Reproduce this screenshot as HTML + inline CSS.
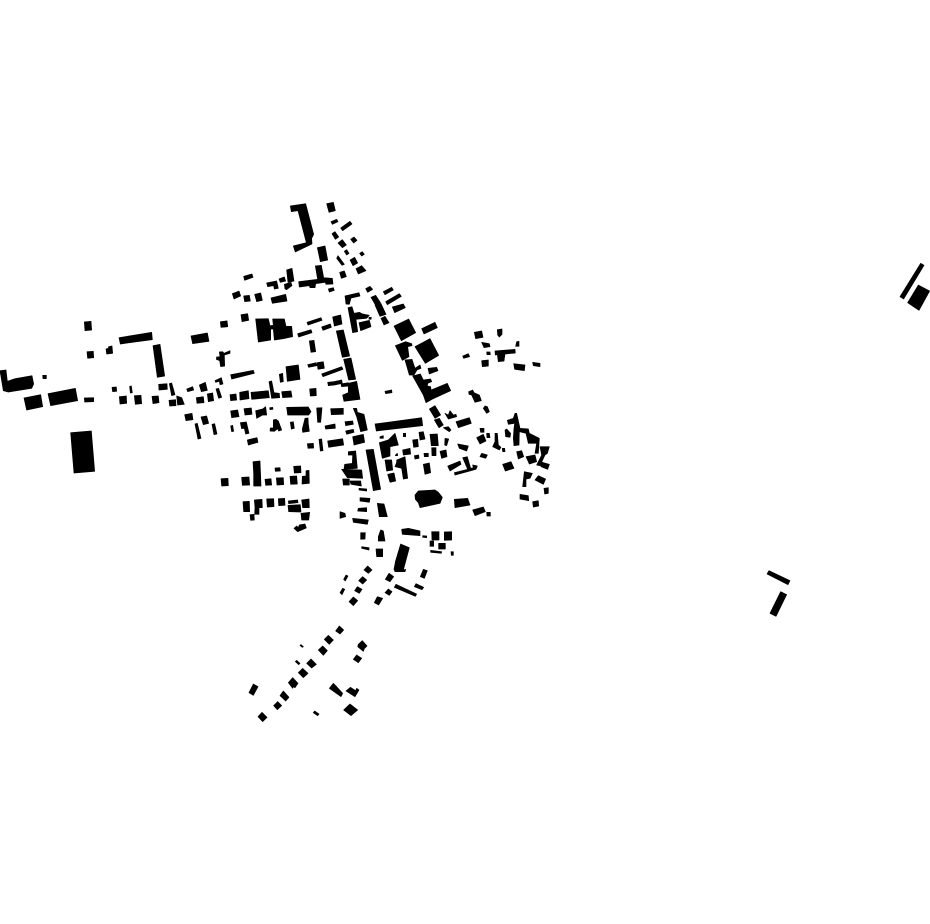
<!DOCTYPE html>
<html><head><meta charset="utf-8"><title>Figure-ground map</title>
<style>html,body{margin:0;padding:0;background:#fff}svg{display:block}polygon{stroke:#000;stroke-width:2;stroke-linejoin:round}</style></head>
<body>
<svg xmlns="http://www.w3.org/2000/svg" width="930" height="924" viewBox="0 0 930 924">
<rect width="930" height="924" fill="#fff"/>
<g fill="#000">
<g transform="translate(0,310) scale(.33333)">
<polygon points="0,182 18,180 22,214 45,206 96,197 101,222 95,235 25,246 10,242"/>
<polygon points="128,196 139,196 139,206 129,206"/>
<polygon points="72,264 122,254 128,290 80,300"/>
<polygon points="144,251 226,235 233,272 152,287"/>
<polygon points="253,264 281,263 281,275 254,276"/>
<polygon points="212,368 274,363 284,484 222,489"/>
<polygon points="253,36 273,34 275,60 255,62"/>
<polygon points="261,125 280,124 281,143 263,145"/>
<polygon points="318,117 325,115 326,110 336,108 338,130 320,132"/>
<polygon points="357,83 455,67 457,89 361,102"/>
<polygon points="459,107 480,103 494,198 472,202"/>
<polygon points="573,78 622,69 627,94 578,101"/>
<polygon points="661,36 681,33 683,50 663,52"/>
<polygon points="336,232 349,231 350,244 338,245"/>
<polygon points="389,229 394,228 397,248 391,249"/>
<polygon points="358,260 379,258 380,280 360,282"/>
<polygon points="403,257 423,256 425,281 406,283"/>
<polygon points="456,259 475,258 477,278 459,281"/>
<polygon points="476,223 501,221 502,238 477,240"/>
<polygon points="508,221 515,219 525,254 515,257"/>
<polygon points="507,271 527,269 528,287 509,288"/>
<polygon points="530,258 545,263 553,283 533,285"/>
<polygon points="560,237 578,230 581,240 563,245"/>
<polygon points="598,225 616,217 622,241 604,245"/>
<polygon points="589,263 610,260 612,278 591,280"/>
<polygon points="622,252 638,249 641,272 625,275"/>
<polygon points="648,237 656,235 665,262 656,265"/>
<polygon points="645,212 660,205 664,203 669,222 660,224 658,214 647,217"/>
<polygon points="554,314 576,310 579,329 558,332"/>
<polygon points="603,321 620,318 626,340 610,344"/>
<polygon points="585,342 592,340 603,385 594,387"/>
<polygon points="636,343 644,341 651,372 642,374"/>
<polygon points="658,126 668,125 672,130 690,122 690,130 673,135 674,168 662,170 659,152 649,148 650,141 660,140"/>
</g>
<g transform="translate(215,195) scale(.33333)">
<polygon points="226,33 272,26 296,118 290,130 291,147 241,171 235,153 274,143 249,47 229,50"/>
<polygon points="335,26 355,22 361,47 342,52"/>
<polygon points="348,80 365,73 369,80 352,88"/>
<polygon points="377,99 405,79 411,87 383,107"/>
<polygon points="351,116 360,110 371,126 361,133"/>
<polygon points="369,144 382,134 394,150 382,158"/>
<polygon points="407,133 417,126 426,136 416,144"/>
<polygon points="388,169 395,164 402,175 395,180"/>
<polygon points="434,175 442,170 448,178 440,183"/>
<polygon points="365,190 369,182 388,208 381,211"/>
<polygon points="405,195 419,187 428,204 414,212"/>
<polygon points="307,158 330,153 338,195 316,200"/>
<polygon points="423,221 440,212 453,227 430,237"/>
<polygon points="374,232 388,228 394,245 379,250"/>
<polygon points="86,244 111,237 114,247 89,256"/>
<polygon points="215,225 231,220 237,258 219,262"/>
<polygon points="155,264 185,258 190,280 178,282 176,272 158,275"/>
<polygon points="192,252 208,246 212,258 196,262"/>
<polygon points="208,268 228,262 231,272 215,284 210,282"/>
<polygon points="251,260 283,256 308,253 301,213 319,211 326,248 352,250 354,267 333,268 331,262 302,266 300,278 285,278 283,272 253,276"/>
<polygon points="340,282 355,278 358,286 343,291"/>
<polygon points="52,296 72,288 77,303 57,312"/>
<polygon points="86,303 103,301 106,318 89,320"/>
<polygon points="119,298 137,294 142,316 125,320"/>
<polygon points="168,309 212,298 216,318 172,325"/>
<polygon points="17,380 36,378 38,395 19,397"/>
<polygon points="78,359 98,356 101,376 81,380"/>
<polygon points="122,372 160,371 165,392 175,391 173,372 208,372 213,394 230,394 233,425 205,431 178,435 175,402 167,402 167,435 130,441"/>
<polygon points="276,382 318,368 321,376 279,390"/>
<polygon points="320,396 346,387 349,397 324,406"/>
<polygon points="353,366 377,360 381,387 358,393"/>
<polygon points="248,416 288,404 291,413 251,426"/>
<polygon points="283,438 297,436 302,470 288,472"/>
</g>
<g transform="translate(215,360) scale(.33333)">
<polygon points="278,14 303,8 306,17 281,22"/>
<polygon points="306,8 325,5 328,25 309,28"/>
<polygon points="320,42 380,20 384,28 324,50"/>
<polygon points="47,44 115,31 118,40 50,57"/>
<polygon points="213,20 250,15 255,58 217,64"/>
<polygon points="193,43 203,40 205,65 196,67"/>
<polygon points="338,67 355,65 357,75 340,77"/>
<polygon points="356,65 380,60 382,70 358,75"/>
<polygon points="378,72 400,68 402,78 380,80"/>
<polygon points="162,65 170,63 177,98 193,100 194,113 170,115"/>
<polygon points="108,97 160,92 163,113 110,118"/>
<polygon points="74,97 100,92 102,116 75,120"/>
<polygon points="45,104 63,102 65,120 47,122"/>
<polygon points="200,95 228,93 231,111 203,113"/>
<polygon points="284,87 303,85 304,107 286,108"/>
<polygon points="47,153 68,150 72,170 50,173"/>
<polygon points="87,146 109,144 111,163 90,165"/>
<polygon points="122,152 143,147 152,140 155,165 143,165 125,175"/>
<polygon points="164,143 173,142 174,148 165,149"/>
<polygon points="215,142 280,141 288,155 281,165 218,165"/>
<polygon points="305,144 321,143 320,155 317,187 308,187"/>
<polygon points="347,146 385,145 385,163 349,164"/>
<polygon points="166,204 175,204 175,180 183,178 190,183 200,210 191,213 188,206 178,214 165,213"/>
<polygon points="226,187 235,185 238,205 229,207"/>
<polygon points="262,207 270,175 279,174 280,192 283,214 263,217"/>
<polygon points="330,198 360,192 361,205 332,207"/>
<polygon points="47,198 53,196 56,214 50,215"/>
<polygon points="76,188 94,186 102,220 92,222 88,205 80,206"/>
<polygon points="97,240 126,233 129,247 100,255"/>
<polygon points="277,251 295,250 296,264 279,265"/>
<polygon points="312,238 320,237 324,272 316,273"/>
<polygon points="338,243 383,236 386,255 341,262"/>
<polygon points="18,356 39,355 40,377 20,378"/>
<polygon points="80,352 102,351 104,375 82,376"/>
<polygon points="114,305 135,303 137,350 138,378 116,378 116,340"/>
<polygon points="150,358 168,356 170,375 152,376"/>
<polygon points="184,354 205,353 206,374 186,375"/>
<polygon points="180,324 195,323 196,333 181,334"/>
<polygon points="236,319 257,318 258,338 238,339"/>
<polygon points="225,349 245,348 247,372 227,373"/>
<polygon points="273,332 282,331 283,370 261,372 262,349 273,348"/>
<polygon points="84,425 103,424 104,455 86,455"/>
<polygon points="118,420 141,418 142,443 132,443 132,463 119,463 120,442"/>
<polygon points="155,417 176,416 177,440 157,441"/>
<polygon points="190,416 209,415 210,436 191,437"/>
<polygon points="220,423 248,420 249,428 221,431"/>
<polygon points="219,436 256,434 258,456 221,455"/>
<polygon points="260,420 282,417 283,443 263,443"/>
<polygon points="258,460 284,457 281,480 260,480"/>
<polygon points="105,464 117,463 118,480 107,481"/>
<polygon points="237,505 245,498 250,503 253,495 270,492 274,504 253,513 248,515"/>
</g>
<g transform="translate(340,280) scale(.33333)">
<polygon points="15,48 57,38 60,48 33,54 28,73 18,72"/>
<polygon points="77,26 90,19 98,28 83,37"/>
<polygon points="130,35 155,22 160,30 135,44"/>
<polygon points="93,52 107,46 122,69 107,76"/>
<polygon points="137,65 178,41 184,49 142,74"/>
<polygon points="157,81 190,72 196,83 164,98"/>
<polygon points="105,75 123,71 138,103 120,109"/>
<polygon points="123,115 135,109 147,128 132,135"/>
<polygon points="24,83 36,80 42,100 58,97 68,102 88,106 80,115 48,118 53,155 38,158"/>
<polygon points="57,128 88,121 93,140 62,152"/>
<polygon points="87,112 94,112 93,118 87,118"/>
<polygon points="-11,153 10,150 29,228 7,232"/>
<polygon points="11,238 33,234 47,298 26,300"/>
<polygon points="8,345 25,338 25,310 50,304 60,358 12,364"/>
<polygon points="135,334 155,330 156,338 137,341"/>
<polygon points="162,138 206,117 227,158 184,182"/>
<polygon points="245,146 285,127 292,143 252,162"/>
<polygon points="225,200 270,176 296,226 256,250"/>
<polygon points="368,228 385,221 389,230 371,235"/>
<polygon points="403,157 425,153 429,172 407,176"/>
<polygon points="472,149 486,147 486,163 478,171 473,165"/>
<polygon points="425,187 448,191 450,200 432,203"/>
<polygon points="440,216 450,216 451,224 441,224"/>
<polygon points="530,185 537,184 537,199 527,199"/>
<polygon points="465,213 525,208 526,219 495,222 492,243 475,245 472,224 466,225"/>
<polygon points="425,242 445,240 445,258 427,260"/>
<polygon points="521,251 555,255 553,272 524,268"/>
<polygon points="578,247 600,250 600,260 580,257"/>
<polygon points="166,197 197,185 215,191 216,197 203,200 207,230 187,241"/>
<polygon points="195,240 216,238 225,265 240,255 243,265 231,270 222,285 208,285"/>
<polygon points="264,265 290,262 294,272 268,282"/>
<polygon points="218,288 241,282 250,300 272,297 275,305 263,310 262,318 272,320 273,330 322,310 332,332 278,357 258,368 250,345"/>
<polygon points="386,335 398,330 402,338 418,345 424,362 405,367 395,345 387,343"/>
</g>
<g transform="translate(340,405) scale(.33333)">
<polygon points="40,10 50,10 52,22 72,28 82,75 62,80 50,35"/>
<polygon points="15,50 38,48 40,58 17,62"/>
<polygon points="17,78 40,73 42,82 20,88"/>
<polygon points="38,95 70,88 74,112 42,120"/>
<polygon points="105,57 245,38 248,62 109,78"/>
<polygon points="268,12 285,2 302,30 285,40"/>
<polygon points="283,45 298,40 310,60 297,68"/>
<polygon points="315,25 325,30 330,17 340,30 348,28 350,35 325,42"/>
<polygon points="310,68 325,65 333,75 328,80"/>
<polygon points="348,50 388,38 394,55 355,68"/>
<polygon points="435,3 442,5 448,20 440,25 430,10"/>
<polygon points="502,46 520,40 525,25 530,25 540,70 565,72 568,85 598,100 595,145 585,145 590,115 565,115 558,85 538,80 537,120 522,122 520,100 522,70 524,55 505,58"/>
<polygon points="495,75 500,72 512,85 510,97 497,95"/>
<polygon points="420,70 432,70 432,82 422,82"/>
<polygon points="410,98 430,88 438,108 420,117"/>
<polygon points="440,85 448,85 450,98 441,98"/>
<polygon points="465,85 472,85 475,120 483,127 478,135 458,125 465,110"/>
<polygon points="487,130 494,130 495,140 488,140"/>
<polygon points="530,140 545,137 551,155 535,162"/>
<polygon points="558,155 585,150 590,170 568,177"/>
<polygon points="600,125 628,125 622,145 615,150 600,182 590,180 605,150"/>
<polygon points="600,170 628,178 623,193 603,185"/>
<polygon points="488,178 513,170 522,190 496,198"/>
<polygon points="353,117 385,123 380,138 358,130"/>
<polygon points="425,145 442,150 437,160 420,155"/>
<polygon points="323,183 360,168 363,178 330,198"/>
<polygon points="368,158 382,155 392,190 400,188 398,180 412,183 408,193 400,195 345,210 343,203 383,193"/>
<polygon points="300,139 318,135 321,155 305,160"/>
<polygon points="250,178 268,174 272,203 255,208"/>
<polygon points="315,100 326,102 320,122 314,120"/>
<polygon points="270,88 292,87 295,122 274,122"/>
<polygon points="275,128 288,128 288,152 276,152"/>
<polygon points="223,152 236,150 237,160 225,162"/>
<polygon points="252,145 265,145 265,155 253,155"/>
<polygon points="237,82 250,80 255,102 240,105"/>
<polygon points="218,105 233,103 235,125 221,127"/>
<polygon points="188,135 210,130 212,147 190,150"/>
<polygon points="120,95 130,92 130,100 120,100"/>
<polygon points="190,85 197,85 197,95 190,95"/>
<polygon points="118,113 145,105 155,95 165,85 175,120 150,125 150,153 127,160"/>
<polygon points="168,148 172,145 173,152 166,152"/>
<polygon points="135,165 155,165 158,195 140,198"/>
<polygon points="170,165 195,155 203,220 190,222 185,190 165,185 170,172"/>
<polygon points="143,208 162,204 167,228 150,232"/>
<polygon points="78,135 100,133 122,253 100,257"/>
<polygon points="25,140 47,138 52,190 12,193 14,178 37,175 38,150 25,150"/>
<polygon points="5,193 65,195 68,220 22,218"/>
<polygon points="8,222 28,222 28,240 10,240"/>
<polygon points="30,228 62,228 64,243 33,238"/>
<polygon points="57,250 80,252 80,258 57,255"/>
<polygon points="60,278 90,280 88,292 60,288"/>
<polygon points="55,310 80,308 80,320 53,318"/>
<polygon points="0,320 15,325 17,335 0,340"/>
<polygon points="38,340 85,345 82,358 40,352"/>
<polygon points="112,295 132,297 142,335 118,335"/>
<polygon points="62,383 76,383 75,402 62,403"/>
<polygon points="65,425 87,428 87,435 65,430"/>
<polygon points="108,432 128,432 128,455 110,455"/>
<polygon points="115,395 122,375 130,378 135,408 115,408"/>
<polygon points="185,373 205,370 240,378 240,392 187,388"/>
<polygon points="248,392 260,393 260,398 248,397"/>
<polygon points="275,380 297,380 297,405 276,405"/>
<polygon points="313,381 335,380 335,405 313,406"/>
<polygon points="270,408 281,408 281,424 270,424"/>
<polygon points="296,415 316,415 316,432 296,432"/>
<polygon points="272,436 305,440 304,445 272,442"/>
<polygon points="333,440 340,440 340,451 334,451"/>
<polygon points="225,270 235,258 285,255 295,262 307,277 300,295 240,308 235,293 226,283"/>
<polygon points="343,283 383,280 390,300 345,308"/>
<polygon points="398,315 430,306 436,320 405,332"/>
<polygon points="440,322 451,322 451,333 441,333"/>
<polygon points="540,268 565,272 566,287 540,282"/>
<polygon points="578,290 595,287 596,303 580,306"/>
<polygon points="612,250 625,248 625,265 614,267"/>
<polygon points="553,200 577,205 570,220 558,222 558,245 548,245"/>
<polygon points="585,225 595,212 617,222 610,238"/>
</g>
<g transform="translate(240,520) scale(.33333)">
<polygon points="482,72 508,83 490,150 497,148 495,155 465,155 462,148 467,122"/>
<polygon points="372,150 383,138 396,150 385,160"/>
<polygon points="356,182 368,170 380,180 368,192"/>
<polygon points="311,178 318,165 324,168 316,183"/>
<polygon points="344,212 352,200 366,208 358,220"/>
<polygon points="300,218 308,205 314,208 306,224"/>
<polygon points="327,245 340,231 353,242 340,257"/>
<polygon points="403,248 412,230 428,235 416,255"/>
<polygon points="436,178 447,160 461,170 450,185"/>
<polygon points="435,218 445,207 456,215 448,226"/>
<polygon points="463,202 468,193 530,222 526,229"/>
<polygon points="523,200 528,191 551,202 546,209"/>
<polygon points="541,170 550,148 562,152 553,175"/>
<polygon points="287,333 298,318 311,330 300,342"/>
<polygon points="253,358 265,346 280,360 268,373"/>
<polygon points="235,390 248,378 262,392 250,406"/>
<polygon points="180,376 183,374 190,380 187,382"/>
<polygon points="166,425 170,421 180,430 176,434"/>
<polygon points="200,430 213,417 229,433 215,444"/>
<polygon points="175,458 188,445 204,460 190,473"/>
<polygon points="145,488 158,473 174,490 165,503 160,500 158,505"/>
<polygon points="120,527 130,513 147,532 137,543"/>
<polygon points="101,557 113,545 125,557 112,569"/>
<polygon points="54,590 66,577 81,592 68,605"/>
<polygon points="27,518 40,492 54,500 40,526"/>
<polygon points="355,373 367,362 381,378 373,386 370,394 353,380"/>
<polygon points="340,418 350,405 365,415 355,428"/>
<polygon points="268,505 280,490 290,500 308,520 303,530"/>
<polygon points="318,513 331,502 347,512 350,505 357,510 345,530"/>
<polygon points="311,570 330,552 353,570 333,587"/>
<polygon points="220,578 224,573 237,582 233,587"/>
</g>
<g transform="translate(760,255) scale(.33333)">
<polygon points="420,125 482,25 492,31 431,132"/>
<polygon points="443,143 475,90 509,108 477,166"/>
<polygon points="21,957 27,947 90,977 84,989"/>
<polygon points="30,1075 62,1010 80,1019 48,1084"/>
</g>
</g>
</svg>
</body></html>
